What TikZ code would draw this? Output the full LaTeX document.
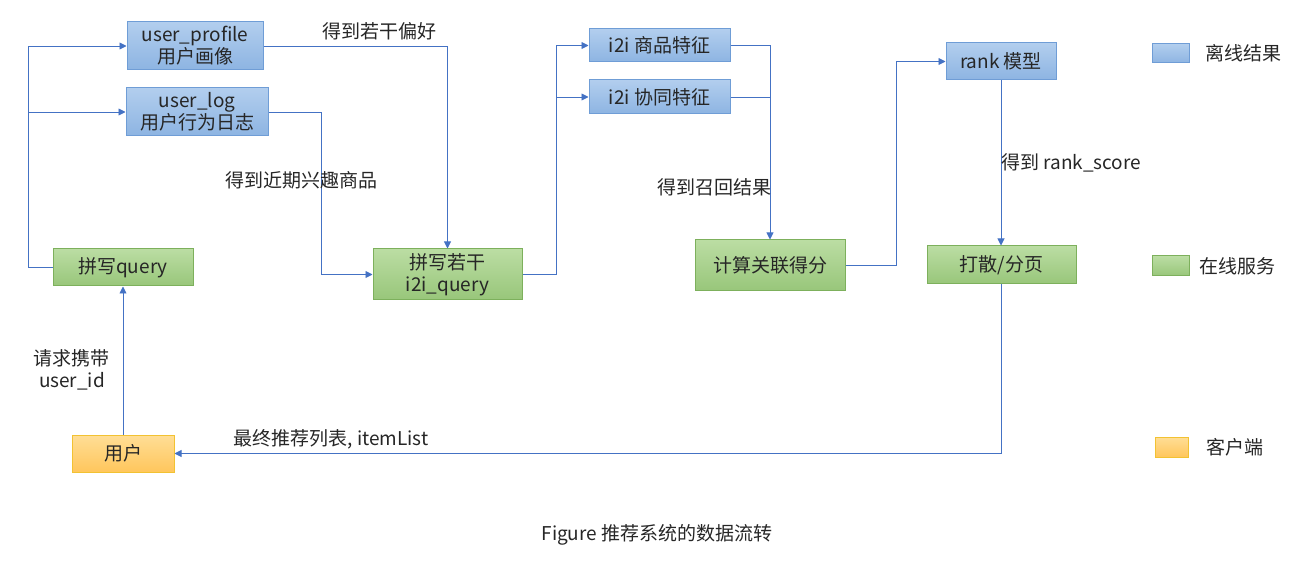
\documentclass[tikz,border=0pt]{standalone}
\usepackage{fontspec}
\setmainfont{Noto Sans CJK SC}
\usetikzlibrary{arrows.meta}
\definecolor{lineblue}{HTML}{4472C4}
\definecolor{txt}{HTML}{262626}
\definecolor{bdblue}{HTML}{6F9DD6}
\definecolor{bdgreen}{HTML}{7DB05C}
\definecolor{bdyellow}{HTML}{F2C232}
\definecolor{bluetop}{RGB}{178,206,238}
\definecolor{bluebot}{RGB}{141,180,226}
\definecolor{greentop}{RGB}{187,221,163}
\definecolor{greenbot}{RGB}{152,198,122}
\definecolor{yeltop}{RGB}{255,222,150}
\definecolor{yelbot}{RGB}{255,198,92}
\tikzset{
  box/.style={rectangle, inner sep=0pt, align=center, text=txt,
    font=\fontsize{19}{22}\selectfont, line width=1pt},
  offl/.style={box, draw=bdblue, top color=bluetop, bottom color=bluebot},
  onl/.style={box, draw=bdgreen, top color=greentop, bottom color=greenbot},
  cli/.style={box, draw=bdyellow, top color=yeltop, bottom color=yelbot},
  conn/.style={draw=lineblue, line width=0.9pt},
  arr/.style={conn, -{Triangle[length=7pt,width=7pt]}},
  lbl/.style={inner sep=0pt, text=txt, font=\fontsize{19}{22}\selectfont, align=center}
}
\begin{document}
\begin{tikzpicture}[x=1pt,y=-1pt]
\useasboundingbox (0,0) rectangle (1302,572);
% boxes
\node[offl, minimum width=136pt, minimum height=48pt] (prof) at (195,46) {user\_profile\\用户画像};
\node[offl, minimum width=142pt, minimum height=48pt] (log) at (197,112) {user\_log\\用户行为日志};
\node[onl, minimum width=140pt, minimum height=37pt] (qry) at (123,267.5) {拼写query};
\node[onl, minimum width=149pt, minimum height=51pt] (i2iq) at (447.5,274.5) {拼写若干\\i2i\_query};
\node[offl, minimum width=141pt, minimum height=33pt] (feat) at (659.5,45.5) {i2i 商品特征};
\node[offl, minimum width=141pt, minimum height=34pt] (coop) at (659.5,97) {i2i 协同特征};
\node[onl, minimum width=150pt, minimum height=51pt] (score) at (770,265.5) {计算关联得分};
\node[offl, minimum width=110pt, minimum height=37pt] (rank) at (1001,61.5) {rank 模型};
\node[onl, minimum width=149pt, minimum height=38pt] (page) at (1001.5,265) {打散/分页};
\node[cli, minimum width=102pt, minimum height=37pt] (user) at (123,453.5) {用户};
% legend
\node[offl, minimum width=37pt, minimum height=19pt] (lgb) at (1170.5,53.5) {};
\node[onl, minimum width=37pt, minimum height=20pt] (lgg) at (1170.5,266) {};
\node[cli, minimum width=33pt, minimum height=20pt] (lgy) at (1171.5,447) {};
\node[lbl, anchor=west] (lgbt) at (1205,53) {离线结果};
\node[lbl, anchor=west] (lggt) at (1199,266) {在线服务};
\node[lbl, anchor=west] (lgyt) at (1206,447) {客户端};
% coordinates
\coordinate (j1) at (28,267.5);
\coordinate (j3) at (321,112);
\coordinate (j4) at (556,274.5);
\coordinate (j6) at (896,265.5);
% connectors
\draw[arr] (qry.west) -- (j1) |- (prof.west);
\draw[arr] (j1 |- log.west) -- (log.west);
\draw[arr] (prof.east) -| (i2iq.north);
\draw[arr] (log.east) -- (j3) |- (i2iq.west);
\draw[arr] (i2iq.east) -- (j4) |- (feat.west);
\draw[arr] (j4 |- coop.west) -- (coop.west);
\draw[arr] (feat.east) -| (score.north);
\draw[conn] (coop.east) -- (coop.east -| score.north);
\draw[arr] (score.east) -- (j6) |- (rank.west);
\draw[arr] (rank.south) -- (rank.south |- page.north);
\draw[arr] (page.south) |- (user.east);
\draw[arr] (user.north) -- (qry.south);
% labels
\node[lbl] (l1) at (379,31) {得到若干偏好};
\node[lbl] (l2) at (301,180) {得到近期兴趣商品};
\node[lbl] (l3) at (714,187) {得到召回结果};
\node[lbl, anchor=west] (l4) at (1001,163) {得到 rank\_score};
\node[lbl] (l5) at (72,369.5) {请求携带\\user\_id};
\node[lbl] (l6) at (331,439) {最终推荐列表, itemList};
\node[lbl] (cap) at (657,535) {Figure 推荐系统的数据流转};
\end{tikzpicture}
\end{document}
